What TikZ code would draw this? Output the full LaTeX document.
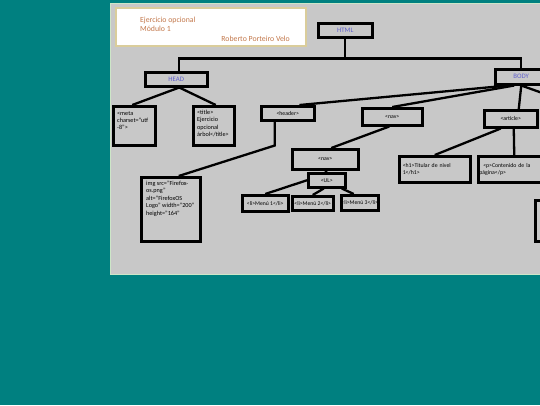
\documentclass[tikz,border=0pt]{standalone}
\usepackage{fontspec}
\setmainfont{Carlito}
\usetikzlibrary{positioning}

\definecolor{tealbg}{RGB}{0,128,128}
\definecolor{panelgrey}{RGB}{200,200,200}
\definecolor{panelrim}{RGB}{205,230,200}
\definecolor{titlerim}{RGB}{218,205,155}
\definecolor{titletext}{RGB}{195,120,75}
\definecolor{rootblue}{RGB}{95,95,205}

\begin{document}
\begin{tikzpicture}[x=1pt,y=-1pt,line width=2.3pt,
  tag node/.style={draw,line width=2.5pt,anchor=north west,inner sep=2pt,
    align=left,font=\fontsize{5.8}{7.5}\selectfont},
  root node/.style={tag node,text=rootblue,font=\fontsize{6.8}{7}\selectfont},
  li node/.style={tag node,inner sep=0pt,font=\fontsize{5.7}{6}\selectfont},
  tag text/.style={anchor=north west,inner sep=0pt,align=left,
    font=\fontsize{6.2}{7.4}\selectfont},
  note text/.style={inner sep=0pt,text=titletext,font=\fontsize{7.8}{9}\selectfont}]

  \useasboundingbox (0,0) rectangle (540,405);
  \fill[tealbg] (0,0) rectangle (540,405);
  \filldraw[fill=panelgrey,draw=panelrim,line width=1pt] (110.5,3.5) rectangle (545,274.5);

  % title card
  \filldraw[fill=white,draw=titlerim,line width=2pt] (116,8) rectangle (306,46);
  \node[note text,anchor=base west] (ex) at (139,22) {Ejercicio opcional};
  \node[note text,anchor=base west] (mod) at (139,31) {Módulo 1};
  \node[note text,anchor=base east] (auth) at (291,41) {Roberto Porteiro Velo};

  % tree
  \node[root node,minimum width=54,minimum height=14] (html) at (317,22) {HTML};
  \node[root node,minimum width=62,minimum height=14] (head) at (144,71) {HEAD};
  \node[root node,minimum width=52,minimum height=15] (body) at (494,68) {BODY};

  \node[tag node,minimum width=42,minimum height=39] (meta) at (112,105) {};
  \node[tag text] (metatxt) at ([xshift=4,yshift=-5]meta.north west)
    {<meta\\charset="utf\\-8">};
  \node[tag node,minimum width=41,minimum height=39] (title) at (192,105) {};
  \node[tag text] (titletxt) at ([xshift=4,yshift=-4]title.north west)
    {<title>\\Ejercicio\\opcional\\árbol</title>};

  \node[tag node,minimum width=53,minimum height=14] (header) at (260,105) {<header>};
  \node[tag node,minimum width=60,minimum height=17] (nav) at (361,107) {<nav>};
  \node[tag node,minimum width=53,minimum height=17] (article) at (483,109) {<article>};
  \node[tag node,minimum width=20,minimum height=41] (more) at (534,199) {};

  \node[tag node,minimum width=59,minimum height=64] (img) at (140,176) {};
  \node[tag text] (imgtxt) at ([xshift=5,yshift=-4]img.north west)
    {img src="Firefox-\\os.png"\\alt="FirefoxOS\\Logo" width="200"\\height="164"};

  \node[tag node,minimum width=66,minimum height=20] (navtwo) at (291,148) {<nav>};
  \node[tag node,minimum width=37,minimum height=14] (ul) at (307,172) {<UL>};
  \node[li node,minimum width=46,minimum height=16] (li1) at (241,194) {<li>Menú 1</li>};
  \node[li node,minimum width=41,minimum height=14] (li2) at (291,195) {<li>Menú 2</li>};
  \node[li node,minimum width=37,minimum height=15] (li3) at (340,194) {<li>Menú 3</li>};

  \node[tag node,minimum width=71,minimum height=26,text width=64] (hone) at (398,155) {<h1>Titular de nivel\\1</h1>};
  \node[tag node,minimum width=66,minimum height=26,text width=64,inner sep=1pt] (para) at (477,155) {\hspace{4pt}<p>Contenido de la\\página</p>};

  \coordinate (bus) at ([yshift=-20]html.south);
  \coordinate (offright) at (548,95);

  \draw (html.south) -- (bus);
  \draw ([xshift=3]head.north) -- ([xshift=3]head.north |- bus) -- (body.north |- bus) -- (body.north);
  \draw ([xshift=3]head.south) -- ([xshift=-2]meta.north);
  \draw ([xshift=3]head.south) -- ([xshift=2]title.north);
  \draw ([xshift=-13]body.south) -- ([xshift=-16]header.north east);
  \draw ([xshift=-7]body.south) -- (nav.north);
  \draw (body.south) -- ([xshift=8]article.north);
  \draw (body.south) -- (offright);
  \draw ([xshift=-13]header.south) -- ++(0,24) -- ([xshift=8]img.north);
  \draw ([xshift=-3]nav.south) -- ([xshift=6]navtwo.north);
  \draw (navtwo.south) -- (ul.north);
  \draw (ul.west) -- (li1.north);
  \draw ([xshift=-3]ul.south) -- (li2.north);
  \draw ([xshift=15]ul.south) -- ([xshift=-6]li3.north);
  \draw ([xshift=-10]article.south) -- (hone.north);
  \draw ([xshift=3]article.south) -- ([xshift=3]para.north);

\end{tikzpicture}
\end{document}
